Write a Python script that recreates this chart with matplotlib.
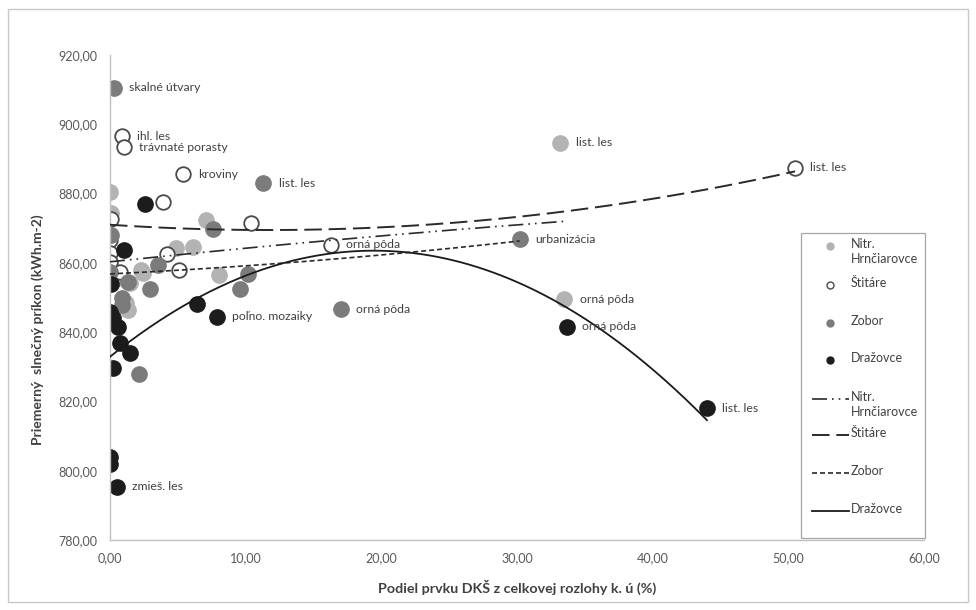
import numpy as np
import matplotlib
matplotlib.use("Agg")
import matplotlib.pyplot as plt
from matplotlib.lines import Line2D
from matplotlib.patches import Rectangle

plt.rcParams['font.family'] = ['Lato', 'DejaVu Sans']

# podiel prvku DKS (%) a priemerny slnecny prikon (kWh.m-2) pre kazde k. u.
nitr_x = [0.0, 0.1, 7.1, 4.9, 6.1, 2.3, 2.45, 8.0, 0.3, 1.45, 1.35, 1.2, 33.2, 33.5]
nitr_y = [880.5, 874.5, 872.4, 864.2, 864.6, 858.0, 857.2, 856.5, 855.0, 854.2, 846.5, 848.5, 894.7, 849.5]

stit_x = [0.85, 1.0, 5.35, 3.9, 0.1, 10.4, 0.0, 0.0, 4.2, 0.0, 5.1, 0.75, 16.3, 50.5]
stit_y = [896.6, 893.3, 885.6, 877.6, 872.8, 871.6, 866.6, 862.8, 862.5, 860.3, 858.0, 857.4, 865.2, 887.5]

zobor_x = [0.3, 11.3, 7.6, 0.05, 3.55, 0.0, 10.2, 1.35, 2.95, 9.6, 0.85, 0.85, 2.15, 17.0, 30.2]
zobor_y = [910.5, 883.0, 869.7, 868.0, 859.4, 857.4, 856.7, 854.4, 852.4, 852.5, 849.8, 847.8, 828.0, 846.6, 866.8]

draz_x = [2.6, 1.0, 0.1, 0.0, 0.25, 0.6, 6.4, 7.9, 0.75, 1.45, 0.25, 0.0, 0.0, 0.5, 33.7, 44.0]
draz_y = [877.0, 863.7, 854.0, 845.9, 844.0, 841.6, 848.2, 844.5, 836.8, 834.1, 829.6, 804.0, 802.0, 795.4, 841.6, 818.0]

# polynomicke trendy 2. stupna (c0, c1, c2)
nitr_trend = [860.3, 0.412, -0.00189]
stit_trend = [871.0, -0.2618, 0.01123]
zobor_trend = [856.8, 0.1937, 0.00402]
draz_trend = [832.9, 3.1506, -0.08106]

# popisky vybranych bodov: (index v serii, text)
nitr_labels = [(12, "list. les"), (13, "orná pôda")]
stit_labels = [(0, "ihl. les"), (1, "trávnaté porasty"), (2, "kroviny"), (12, "orná pôda"), (13, "list. les")]
zobor_labels = [(0, "skalné útvary"), (1, "list. les"), (13, "orná pôda"), (14, "urbanizácia")]
draz_labels = [(7, "poľno. mozaiky"), (13, "zmieš. les"), (14, "orná pôda"), (15, "list. les")]

C_NITR = '#b3b3b3'
C_ZOBOR = '#7b7b7b'
C_DRAZ = '#1c1c1c'
C_TEXT = '#404040'

W, H = 976, 610
fig = plt.figure(figsize=(W / 100, H / 100), dpi=100)
ax = fig.add_axes([110 / W, 1 - 540 / H, 814 / W, 485 / H])

ms = 11
ax.plot(nitr_x, nitr_y, 'o', ms=ms, color=C_NITR, mec=C_NITR, zorder=2)
ax.plot(stit_x, stit_y, 'o', ms=ms - 0.5, mfc='white', mec='#4a4a4a', mew=1.3, zorder=2)
ax.plot(zobor_x, zobor_y, 'o', ms=ms, color=C_ZOBOR, mec=C_ZOBOR, zorder=2)
ax.plot(draz_x, draz_y, 'o', ms=ms, color=C_DRAZ, mec=C_DRAZ, zorder=2)

styles = {
    'nitr': dict(color='#2a2a2a', lw=1.2, dashes=(9, 3, 1, 3, 1, 3)),
    'stit': dict(color='#2a2a2a', lw=1.4, dashes=(9, 3.5)),
    'zobor': dict(color='#2a2a2a', lw=1.2, dashes=(3, 1.8)),
    'draz': dict(color='#1a1a1a', lw=1.3, ls='-'),
}
for key, xs, coef in [('nitr', nitr_x, nitr_trend), ('stit', stit_x, stit_trend),
                      ('zobor', zobor_x, zobor_trend), ('draz', draz_x, draz_trend)]:
    # trend sa kresli len cez rozsah x danej serie
    t = np.linspace(min(xs), max(xs), 300)
    ax.plot(t, np.polyval(coef[::-1], t), zorder=3, **styles[key])

for xs, ys, labels in [(nitr_x, nitr_y, nitr_labels), (stit_x, stit_y, stit_labels),
                       (zobor_x, zobor_y, zobor_labels), (draz_x, draz_y, draz_labels)]:
    for i, txt in labels:
        ax.annotate(txt, (xs[i], ys[i]), xytext=(11, 0), textcoords='offset points',
                    va='center', ha='left', fontsize=8.8, color=C_TEXT, zorder=4)

ax.set_xlim(0, 60)
ax.set_ylim(780, 920)
ax.set_xticks(np.arange(0, 61, 10))
ax.set_yticks(np.arange(780, 921, 20))
ax.set_xticklabels([f'{v:.2f}'.replace('.', ',') for v in np.arange(0, 61, 10)])
ax.set_yticklabels([f'{v:.2f}'.replace('.', ',') for v in np.arange(780, 921, 20)])
ax.tick_params(length=0, labelsize=9, labelcolor='#595959')
ax.tick_params(axis='x', pad=9)
ax.tick_params(axis='y', pad=9)
for s in ['top', 'right']:
    ax.spines[s].set_visible(False)
for s in ['left', 'bottom']:
    ax.spines[s].set_color('#bfbfbf')
    ax.spines[s].set_linewidth(1.0)

ax.set_xlabel('Podiel prvku DKŠ z celkovej rozlohy k. ú (%)', fontsize=10.3,
              fontweight='bold', color=C_TEXT)
ax.xaxis.set_label_coords(0.5, -40 / 485)
ax.set_ylabel('Priemerný  slnečný príkon (kWh.m-2)', fontsize=10,
              fontweight='bold', color=C_TEXT)
ax.yaxis.set_label_coords(-66 / 814, 0.433)


def fx(px):
    return px / W


def fy(py):
    return 1 - py / H


# legenda
fig.add_artist(Rectangle((fx(801), fy(538)), (925 - 801) / W, (538 - 233) / H,
                         transform=fig.transFigure, fill=True, fc='white',
                         ec='#a6a6a6', lw=0.9, zorder=5))
leg_names = ['Nitr.\nHrnčiarovce', 'Štitáre', 'Zobor', 'Dražovce']
marker_rows = [246, 285, 323, 360]
marker_kw = [dict(mfc=C_NITR, mec=C_NITR), dict(mfc='white', mec='#4a4a4a', mew=1.0),
             dict(mfc=C_ZOBOR, mec=C_ZOBOR), dict(mfc=C_DRAZ, mec=C_DRAZ)]
for name, row, kw in zip(leg_names, marker_rows, marker_kw):
    fig.add_artist(Line2D([fx(830)], [fy(row)], marker='o', ms=5, ls='none',
                          transform=fig.transFigure, zorder=6, **kw))
    fig.text(fx(851), fy(row - 8), name, va='top', ha='left', fontsize=9,
             color=C_TEXT, linespacing=1.3, zorder=6)

line_rows = [399, 435, 473, 511]
for name, row, key in zip(leg_names, line_rows, ['nitr', 'stit', 'zobor', 'draz']):
    fig.add_artist(Line2D([fx(812), fx(849)], [fy(row), fy(row)],
                          transform=fig.transFigure, zorder=6, **styles[key]))
    fig.text(fx(851), fy(row - 8), name, va='top', ha='left', fontsize=9,
             color=C_TEXT, linespacing=1.3, zorder=6)

# ramcek grafu
fig.add_artist(Rectangle((fx(8), fy(602)), (968 - 8) / W, (602 - 9) / H,
                         transform=fig.transFigure, fill=False, ec='#c8c8c8', lw=1.0))

fig.savefig('out.png', dpi=100)
